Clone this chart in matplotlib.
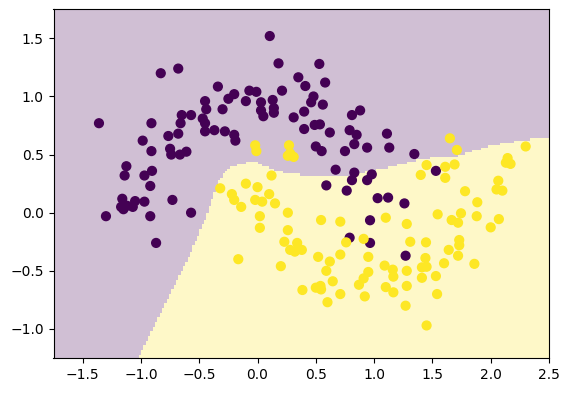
import numpy as np
import matplotlib
matplotlib.use("Agg")
import matplotlib.pyplot as plt
from matplotlib.path import Path

# class 0 (upper moon)
x0 = [-0.83, -0.68, -1.36, -0.91, -0.66, -0.65, -0.68, -0.765, -0.985, -0.91,
      -0.75, -0.74, -0.665, -0.61, -1.125, -1.14, -0.97, -0.905, -0.92, -1.16,
      -1.17, -1.15, -1.12, -1.05, -1.07, -0.97, -0.73, -1.30, -0.92, -0.87,
      -0.57, 0.105, 0.18, 0.35, 0.41, -0.34, -0.20, -0.25, -0.07, -0.01,
      -0.10, 0.03, 0.13, 0.21, -0.45, -0.44, -0.30, 0.03, 0.14, 0.14,
      0.05, 0.31, 0.40, -0.57, -0.47, -0.45, -0.45, -0.37, -0.28, -0.20,
      -0.19, 0.40, 0.53, 0.58, 0.48, 0.46, 0.56, 0.81, 0.88, 0.49,
      0.535, 0.62, 0.79, 0.85, 0.83, 0.75, 0.94, 1.11, 1.13, 1.345,
      0.50, 0.55, 0.67, 0.83, 0.81, 0.98, 0.94, 0.59, 0.765, 1.03,
      1.12, 1.26, 0.965, 0.79, 0.965, 1.27, 1.53]
y0 = [1.20, 1.24, 0.77, 0.77, 0.77, 0.84, 0.68, 0.66, 0.62, 0.53,
      0.55, 0.50, 0.50, 0.525, 0.40, 0.32, 0.32, 0.36, 0.23, 0.12,
      0.05, 0.03, 0.06, 0.10, 0.05, 0.095, 0.11, -0.03, -0.03, -0.26,
      0.0, 1.52, 1.285, 1.165, 1.09, 1.085, 1.02, 0.98, 1.05, 1.04,
      0.96, 0.95, 0.97, 1.05, 0.96, 0.89, 0.89, 0.88, 0.90, 0.86,
      0.83, 0.82, 0.87, 0.84, 0.81, 0.77, 0.70, 0.71, 0.70, 0.67,
      0.62, 0.72, 1.28, 1.12, 1.00, 0.95, 0.93, 0.84, 0.88, 0.755,
      0.76, 0.69, 0.71, 0.67, 0.59, 0.53, 0.56, 0.68, 0.56, 0.505,
      0.57, 0.53, 0.37, 0.345, 0.28, 0.33, 0.28, 0.235, 0.19, 0.125,
      0.13, 0.08, -0.065, -0.215, -0.26, -0.37, 0.36]

# class 1 (lower moon)
x1 = [-0.02, -0.01, 0.27, 0.26, 0.31, 0.28, 0.12, -0.10, -0.32, 0.0,
      -0.22, -0.20, -0.14, 0.10, -0.02, 0.04, 0.15, 0.02, 0.26, 0.02,
      0.26, -0.165, 0.23, 0.28, 0.34, 0.32, 0.38, 0.20, 0.385, 0.91,
      0.76, 1.31, 1.445, 0.52, 0.62, 0.71, 0.95, 1.09, 1.16, 1.165,
      1.28, 1.44, 1.41, 1.45, 1.41, 0.59, 0.95, 0.91, 0.87, 0.645,
      0.50, 0.54, 0.545, 0.71, 0.60, 0.92, 1.10, 1.165, 1.28, 1.27,
      1.45, 1.73, 1.73, 1.64, 1.72, 1.86, 1.60, 1.53, 1.54, 0.545,
      0.71, 1.10, 1.28, 1.40, 1.45, 1.65, 1.71, 1.61, 1.69, 1.61,
      2.30, 2.145, 2.17, 2.13, 2.065, 2.05, 2.10, 1.78, 1.885, 1.545,
      1.745, 1.665, 1.72, 1.88, 2.07, 2.00]
y1 = [0.58, 0.53, 0.58, 0.49, 0.48, 0.51, 0.32, 0.25, 0.21, 0.22,
      0.16, 0.11, 0.05, 0.16, 0.11, 0.095, 0.08, -0.03, 0.0, -0.13,
      -0.15, -0.40, -0.25, -0.32, -0.26, -0.335, -0.32, -0.46, -0.665, -0.225,
      -0.255, -0.25, -0.255, -0.38, -0.42, -0.36, -0.38, -0.455, -0.49, -0.55,
      -0.50, -0.39, -0.47, -0.465, -0.56, -0.50, -0.51, -0.565, -0.62, -0.59,
      -0.645, -0.63, -0.66, -0.70, -0.77, -0.72, -0.64, -0.685, -0.63, -0.80,
      -0.97, -0.235, -0.28, -0.32, -0.37, -0.44, -0.435, -0.545, -0.70, -0.063,
      -0.077, -0.043, -0.097, 0.325, 0.41, 0.64, 0.54, 0.395, 0.415, 0.30,
      0.57, 0.47, 0.42, 0.43, 0.275, 0.20, 0.19, 0.185, 0.09, -0.014,
      -0.005, -0.063, -0.086, -0.03, -0.055, -0.126]

# decision boundary (class 1 lies below / right of it)
bound_x = [-1.02, -0.665, -0.52, -0.42, -0.335, -0.235, -0.135, -0.035, 0.05,
           0.15, 0.265, 0.41, 0.535, 0.79, 1.08, 1.31, 1.48, 1.72, 2.01, 2.29, 2.5]
bound_y = [-1.25, -0.54, -0.22, 0.02, 0.28, 0.395, 0.425, 0.44, 0.41,
           0.37, 0.34, 0.325, 0.31, 0.325, 0.38, 0.44, 0.47, 0.49, 0.58, 0.625, 0.65]

X = np.column_stack([x0 + x1, y0 + y1])
labels = np.array([0] * len(x0) + [1] * len(x1))

h = 0.02
xx, yy = np.meshgrid(np.arange(-1.75, 2.5 + h, h), np.arange(-1.25, 1.75 + h, h))
poly = list(zip(bound_x, bound_y)) + [(2.7, 0.65), (2.7, -1.5), (-1.1, -1.5)]
Z = Path(poly).contains_points(np.c_[xx.ravel(), yy.ravel()]).astype(float)
Z = Z.reshape(xx.shape)

fig = plt.figure(figsize=(5.7, 3.93), dpi=100)
ax = fig.add_axes([53.5 / 570, 1 - 358 / 393, 495.5 / 570, 348.7 / 393])
ax.pcolormesh(xx, yy, Z, cmap="viridis", alpha=0.25, shading="nearest")
ax.scatter(X[:, 0], X[:, 1], c=labels, s=40)
ax.set_xlim(-1.75, 2.5)
ax.set_ylim(-1.25, 1.75)
fig.savefig("out.png", dpi=100)
